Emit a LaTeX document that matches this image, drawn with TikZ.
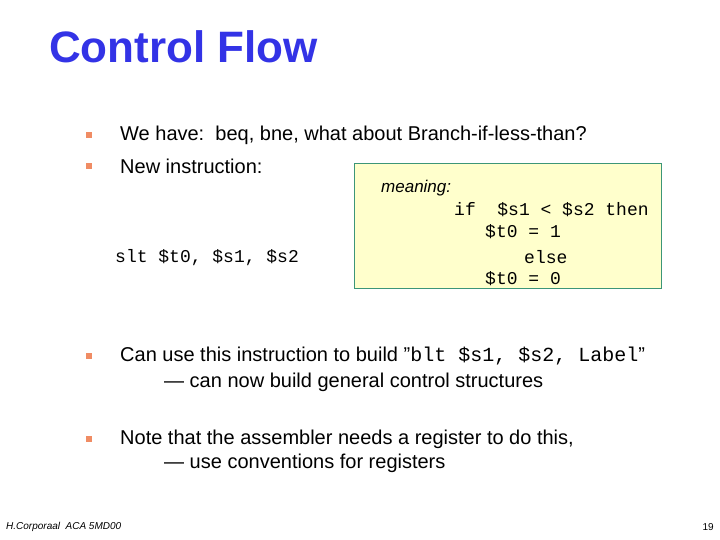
\documentclass[tikz,border=0pt]{standalone}
\usepackage{fontspec}
\setmainfont{Liberation Sans}[Ligatures=ResetAll]
\setmonofont{Liberation Mono}
\usetikzlibrary{positioning}
\definecolor{titleblue}{RGB}{51,51,230}
\definecolor{bulletorange}{RGB}{240,140,100}
\definecolor{boxfill}{RGB}{255,255,204}
\definecolor{boxline}{RGB}{60,150,120}
\tikzset{
  txt/.style={anchor=west,inner sep=0pt,font=\fontsize{20}{24}\selectfont},
  code/.style={anchor=west,inner sep=0pt,font=\fontsize{18}{21}\ttfamily},
  bul/.style={fill=bulletorange,minimum size=6pt,inner sep=0pt}
}
\begin{document}
\begin{tikzpicture}[x=1pt,y=-1pt]
\useasboundingbox (0,0) rectangle (720,540);
\node[anchor=west,inner sep=0pt,text=titleblue,font=\fontsize{44}{50}\selectfont\bfseries] (title) at (49,47) {Control Flow};
% bullets
\foreach \y/\n in {135/b1,166/b2,356/b3,439/b4}
  \node[bul] (\n) at (89,\y) {};
\node[txt] (have) at (120,135) {We have:\ \ beq, bne, what about Branch-if-less-than?};
\node[txt] (new) at (120,166) {New instruction:};
\draw[fill=boxfill,draw=boxline,line width=0.8pt] (354,163) rectangle (661,288);
\node[txt,font=\fontsize{17}{20}\selectfont\itshape] (mean) at (381,188) {meaning:};
\node[code] (if) at (454,210) {if\ \ \$s1 < \$s2 then};
\node[code] (one) at (485,232) {\$t0 = 1};
\node[code] (else) at (524,257) {else};
\node[code] (zero) at (485,279) {\$t0 = 0};
\node[code] (slt) at (115,258) {slt \$t0, \$s1, \$s2};
\node[txt] (can) at (120,356) {Can use this instruction to build "\texttt{blt \$s1, \$s2, Label}"};
\node[txt] (can2) at (164,382) {— can now build general control structures};
\node[txt] (note) at (120,439) {Note that the assembler needs a register to do this,};
\node[txt] (note2) at (164,463) {— use conventions for registers};
% footer
\node[txt,font=\fontsize{10}{12}\selectfont\itshape] (foot) at (6,527) {H.Corporaal\ \ ACA 5MD00};
\node[anchor=east,inner sep=0pt,font=\fontsize{10}{12}\selectfont] (page) at (714,527) {19};
\end{tikzpicture}
\end{document}
